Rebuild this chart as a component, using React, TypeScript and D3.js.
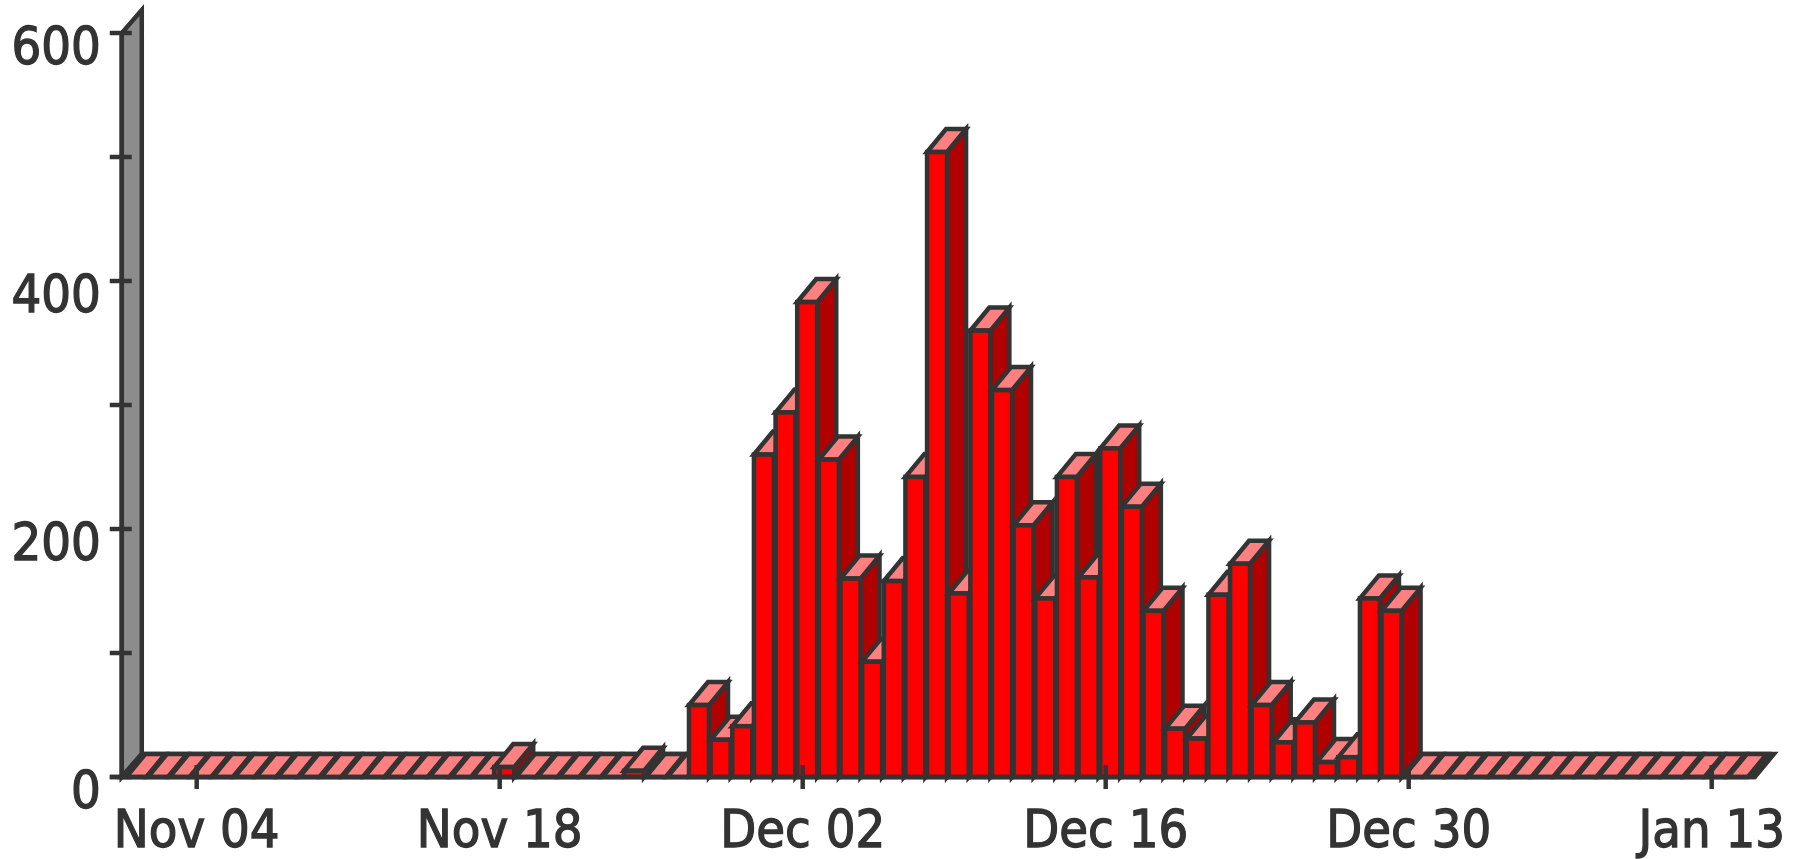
import React, { useEffect } from "react";
import * as d3 from "d3";

// ---- data ----
const startDate = Date.UTC(2007, 10, 1); // Nov 01
// Nov 01 .. Nov 30
const novemberValues = [
  0, 0, 0, 0, 0, 0, 0, 0, 0, 0, 0, 0, 0, 0, 0, 0, 0, 8, 0, 0, 0, 0, 0, 5, 0, 0, 58, 30, 41, 260,
];
// Dec 01 .. Dec 31
const decemberValues = [
  294, 383, 256, 160, 93, 158, 242, 504, 148, 360, 312, 203, 144, 242, 161, 265, 218, 134, 39, 31,
  147, 172, 58, 28, 44, 12, 16, 144, 134, 0, 0,
];
// Jan 01 .. Jan 14
const januaryValues = [0, 0, 0, 0, 0, 0, 0, 0, 0, 0, 0, 0, 0, 0];
const values = [...novemberValues, ...decemberValues, ...januaryValues];

const xTickDates = [
  Date.UTC(2007, 10, 4),
  Date.UTC(2007, 10, 18),
  Date.UTC(2007, 11, 2),
  Date.UTC(2007, 11, 16),
  Date.UTC(2007, 11, 30),
  Date.UTC(2008, 0, 13),
];
const yTicks = [0, 100, 200, 300, 400, 500, 600];
const yLabelTicks = [0, 200, 400, 600];

// ---- styles ----
const W = 1802;
const H = 859;
const STROKE = "#333333";
const SW = 4.5;
const FRONT = "#ff0000";
const TOP = "#ff8080";
const SIDE = "#b00000";
const WALL = "#8c8c8c";
const FONT = "'DejaVu Sans Condensed', 'DejaVu Sans', sans-serif";
const FS = 52;

export default function App() {
  useEffect(() => {
    document.body.style.margin = "0";
  }, []);

  const xScale = d3
    .scaleUtc()
    .domain([new Date(xTickDates[0]), new Date(xTickDates[xTickDates.length - 1])])
    .range([196.7, 1711.7]);
  const yScale = d3.scaleLinear().domain([0, 600]).range([777, 33]);

  const barW = 20;
  const dx = 19;
  const dy = -23;
  const base = yScale(0);

  const data = values.map((v, i) => ({
    date: d3.utcDay.offset(new Date(startDate), i),
    value: v,
  }));

  const barX = (d: Date) => xScale(d3.utcHour.offset(d, 5)) - barW / 2;

  const axisX = xScale(data[0].date) - 10;
  const floorRight = barX(data[data.length - 1].date) + barW + 7;
  const yTop = yScale(600);
  const fmt = d3.utcFormat("%b %d");

  const poly = (pts: [number, number][]) => pts.map((p) => p.join(",")).join(" ");
  const textStyle = {
    fontStretch: "condensed",
    stroke: STROKE,
    strokeWidth: 1.3,
    paintOrder: "stroke",
  } as React.CSSProperties;

  return (
    <svg width={W} height={H} style={{ display: "block", background: "#fff" }}>
      {/* wall */}
      <polygon
        points={poly([
          [axisX, base],
          [axisX, yTop],
          [axisX + 20, yTop + dy],
          [axisX + 20, base + dy],
        ])}
        fill={WALL}
        stroke={STROKE}
        strokeWidth={SW}
      />
      {/* floor */}
      <polygon
        points={poly([
          [axisX, base],
          [floorRight, base],
          [floorRight + dx, base + dy],
          [axisX + 20, base + dy],
        ])}
        fill={STROKE}
        stroke={STROKE}
        strokeWidth={SW}
      />
      {/* bars */}
      {data.map((d, i) => {
        const x0 = barX(d.date);
        const yt = yScale(d.value);
        return (
          <g key={i}>
            <polygon
              points={poly([
                [x0 + barW, yt],
                [x0 + barW, base],
                [x0 + barW + dx, base + dy],
                [x0 + barW + dx, yt + dy],
              ])}
              fill={SIDE}
              stroke={STROKE}
              strokeWidth={SW}
            />
            <polygon
              points={poly([
                [x0, yt],
                [x0 + barW, yt],
                [x0 + barW + dx, yt + dy],
                [x0 + dx, yt + dy],
              ])}
              fill={TOP}
              stroke={STROKE}
              strokeWidth={SW}
            />
            <rect
              x={x0}
              y={yt}
              width={barW}
              height={base - yt}
              fill={FRONT}
              stroke={STROKE}
              strokeWidth={SW}
            />
          </g>
        );
      })}
      {/* axis lines */}
      <line x1={axisX} x2={axisX} y1={yTop} y2={base} stroke={STROKE} strokeWidth={SW} />
      <line x1={axisX - 12} x2={floorRight} y1={base} y2={base} stroke={STROKE} strokeWidth={SW} />
      {/* y ticks */}
      {yTicks.map((t) => (
        <line
          key={t}
          x1={axisX - 12}
          x2={axisX + 10}
          y1={yScale(t)}
          y2={yScale(t)}
          stroke={STROKE}
          strokeWidth={SW}
        />
      ))}
      {yLabelTicks.map((t) => (
        <text
          key={t}
          x={axisX - 21}
          y={yScale(t) + 31}
          textAnchor="end"
          fontFamily={FONT}
          fontSize={FS}
          fill={STROKE}
          style={textStyle}
        >
          {t}
        </text>
      ))}
      {/* x ticks */}
      {xTickDates.map((t) => {
        const x = xScale(new Date(t));
        return (
          <g key={t}>
            <line x1={x} x2={x} y1={base - 12} y2={base + 12} stroke={STROKE} strokeWidth={SW} />
            <text
              x={x}
              y={847}
              textAnchor="middle"
              fontFamily={FONT}
              fontSize={FS}
              fill={STROKE}
              style={textStyle}
            >
              {fmt(new Date(t))}
            </text>
          </g>
        );
      })}
    </svg>
  );
}
